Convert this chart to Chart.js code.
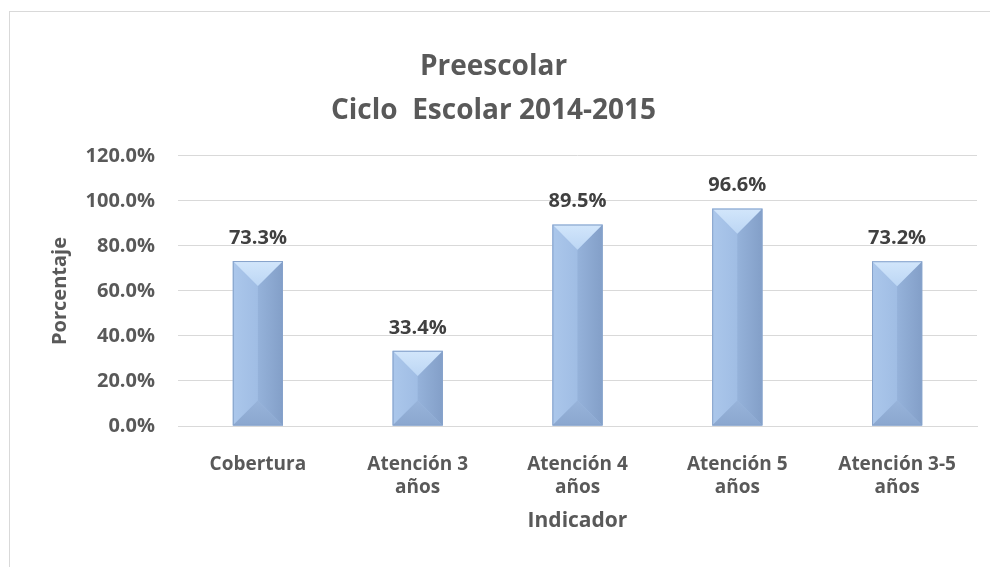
<!DOCTYPE html>
<html>
<head>
<meta charset="utf-8">
<script src="https://cdn.jsdelivr.net/npm/chart.js@4"></script>
<style>
  body { margin:0; background:#fff; }
  #frame { position:absolute; left:9px; top:11px; width:990px; height:570px;
           border-left:1px solid #d9d9d9; border-top:1px solid #d9d9d9; }
  #wrap { position:absolute; left:10px; top:12px; width:970px; height:555px; }
</style>
</head>
<body>
<div id="frame"></div>
<div id="wrap"><canvas id="chart-0"></canvas></div>
<script>
var categorias = [["Cobertura"], ["Atención 3", "años"], ["Atención 4", "años"], ["Atención 5", "años"], ["Atención 3-5", "años"]];
var porcentajes = [0.733, 0.334, 0.895, 0.966, 0.732];
var ticksY = [0, 0.2, 0.4, 0.6, 0.8, 1.0, 1.2];

var fuente = "'Open Sans', sans-serif";

function pct(v){ return (v*100).toFixed(1) + "%"; }

var bisel = {
  id: "bisel",
  afterDatasetsDraw: function(chart){
    var ctx = chart.ctx;
    chart.getDatasetMeta(0).data.forEach(function(bar, i){
      var p = bar.getProps(["x","y","base","width"], true);
      var l = p.x - p.width/2, r = p.x + p.width/2, t = p.y, b = p.base;
      var d = Math.min(p.width/2, (b - t)/2);
      function poly(pts, fill){
        ctx.beginPath();
        ctx.moveTo(pts[0][0], pts[0][1]);
        for (var k = 1; k < pts.length; k++) ctx.lineTo(pts[k][0], pts[k][1]);
        ctx.closePath();
        ctx.fillStyle = fill;
        ctx.fill();
      }
      ctx.save();
      var gl = ctx.createLinearGradient(l, 0, p.x, 0);
      gl.addColorStop(0, "#abc7eb"); gl.addColorStop(1, "#a0bde4");
      poly([[l,t],[p.x,t+d],[p.x,b-d],[l,b]], gl);
      var gr = ctx.createLinearGradient(p.x, 0, r, 0);
      gr.addColorStop(0, "#95b2da"); gr.addColorStop(1, "#839fc8");
      poly([[r,t],[p.x,t+d],[p.x,b-d],[r,b]], gr);
      var gt = ctx.createLinearGradient(0, t, 0, t+d);
      gt.addColorStop(0, "#d2e6fb"); gt.addColorStop(1, "#bcd6f4");
      poly([[l,t],[r,t],[p.x,t+d]], gt);
      var gb = ctx.createLinearGradient(0, b-d, 0, b);
      gb.addColorStop(0, "#97b3da"); gb.addColorStop(1, "#8ba7cf");
      poly([[l,b],[r,b],[p.x,b-d]], gb);
      ctx.strokeStyle = "#87a3cb";
      ctx.lineWidth = 1;
      ctx.strokeRect(l+0.5, t+0.5, p.width-1, b-t-1);
      // etiqueta
      ctx.fillStyle = "#404040";
      ctx.font = "bold 20px " + fuente;
      ctx.textAlign = "center";
      ctx.textBaseline = "middle";
      ctx.fillText(pct(porcentajes[i]), p.x, t - 23);
      ctx.restore();
    });
  }
};

new Chart(document.getElementById("chart-0"), {
  type: "bar",
  data: {
    labels: categorias,
    datasets: [{
      label: "Porcentaje",
      data: porcentajes,
      backgroundColor: "#9dbbe3",
      categoryPercentage: 1,
      barPercentage: 0.314
    }]
  },
  options: {
    responsive: true,
    maintainAspectRatio: false,
    animation: false,
    layout: { padding: { left: 0, right: 3, top: 33, bottom: 21 } },
    plugins: {
      legend: { display: false },
      tooltip: { enabled: false },
      title: {
        display: true,
        text: ["Preescolar", "Ciclo  Escolar 2014-2015"],
        color: "#595959",
        font: { family: fuente, size: 28, weight: "bold", lineHeight: 1.57 },
        padding: { top: 0, bottom: 23 }
      }
    },
    scales: {
      x: {
        grid: { display: false },
        border: { color: "#d9d9d9" },
        afterFit: function(axis){ axis.height = 120; },
        ticks: { color: "#595959", font: { family: fuente, size: 19, weight: "bold", lineHeight: 1.2 }, padding: 19, maxRotation: 0 },
        title: { display: true, text: "Indicador", color: "#595959", font: { family: fuente, size: 21, weight: "bold" }, padding: { top: 0, bottom: 12 } }
      },
      y: {
        min: 0, max: 1.2,
        afterBuildTicks: function(axis){ axis.ticks = ticksY.map(function(v){ return { value: v }; }); },
        afterFit: function(axis){ axis.width = 168; },
        grid: { color: "#d9d9d9", drawTicks: false },
        border: { display: false },
        ticks: { color: "#595959", font: { family: fuente, size: 20, weight: "bold" }, padding: 23,
                 callback: function(v){ return pct(v); } },
        title: { display: true, text: "Porcentaje", color: "#595959", font: { family: fuente, size: 20, weight: "bold" }, padding: { top: 38, bottom: 0 } }
      }
    }
  },
  plugins: [bisel]
});
</script>
</body>
</html>
